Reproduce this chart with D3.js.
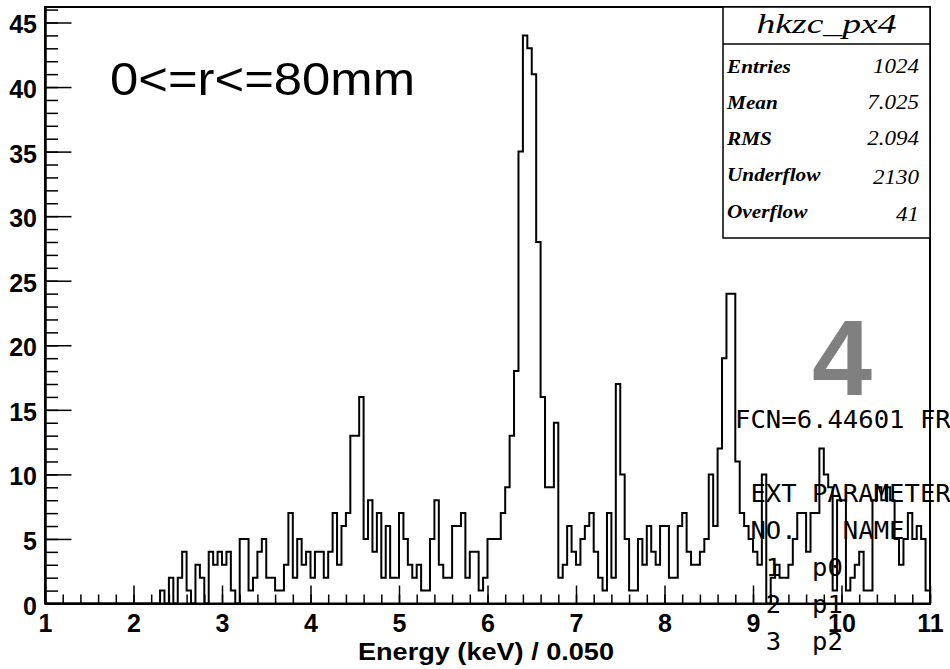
<!DOCTYPE html>
<html>
<head>
<meta charset="utf-8">
<script src="https://cdn.jsdelivr.net/npm/d3@7"></script>
<style>
  html, body { margin: 0; padding: 0; background: #fff; }
  svg { display: block; }
  .mono { white-space: pre; }
</style>
</head>
<body>
<svg id="chart" width="950" height="669"></svg>
<script>
// Energy histogram hkzc_px4: counts in 0.050 keV bins from 1 to 11 keV
const xMin = 1;
const xMax = 11;
const binWidth = 0.05;
const counts = [
  0, 0, 0, 0, 0, 0, 0, 0, 0, 0,      // 1.00 - 1.45
  0, 0, 0, 0, 0, 0, 0, 0, 0, 0,      // 1.50 - 1.95
  0, 0, 0, 0, 0, 0, 1, 0, 2, 0,      // 2.00 - 2.45
  2, 4, 1, 0, 3, 2, 0, 4, 3, 4,      // 2.50 - 2.95
  3, 4, 1, 0, 5, 5, 1, 2, 4, 5,      // 3.00 - 3.45
  2, 2, 1, 1, 3, 7, 2, 5, 3, 4,      // 3.50 - 3.95
  2, 4, 4, 2, 4, 7, 3, 6, 7, 13,     // 4.00 - 4.45
  13, 16, 5, 8, 4, 7, 2, 6, 2, 2,    // 4.50 - 4.95
  7, 5, 3, 2, 3, 1, 1, 5, 8, 3,      // 5.00 - 5.45
  2, 2, 6, 6, 7, 2, 4, 4, 1, 2,      // 5.50 - 5.95
  5, 5, 5, 7, 9, 13, 18, 35, 44, 43, // 6.00 - 6.45
  41, 28, 16, 9, 9, 14, 2, 3, 6, 4,  // 6.50 - 6.95
  3, 5, 6, 7, 4, 2, 1, 7, 2, 17,     // 7.00 - 7.45
  10, 5, 1, 1, 5, 3, 6, 4, 3, 6,     // 7.50 - 7.95
  6, 2, 2, 6, 7, 4, 3, 3, 4, 5,      // 8.00 - 8.45
  10, 6, 12, 19, 24, 24, 11, 7, 6, 5,// 8.50 - 8.95
  4, 3, 10, 0, 2, 3, 2, 2, 3, 5,     // 9.00 - 9.45
  7, 7, 4, 7, 7, 12, 10, 9, 1, 8,    // 9.50 - 9.95
  8, 1, 2, 3, 4, 1, 1, 8, 9, 8,      // 10.00 - 10.45
  9, 8, 5, 3, 5, 7, 5, 6, 5, 1       // 10.50 - 10.95
];
const yMax = 46.2;
const xMajorTicks = [1, 2, 3, 4, 5, 6, 7, 8, 9, 10, 11];
const yMajorTicks = [0, 5, 10, 15, 20, 25, 30, 35, 40, 45];
const xTitle = "Energy (keV) / 0.050";
const regionLabel = "0<=r<=80mm";
const padNumber = "4";
const statsTitle = "hkzc_px4";
const statsNames = ["Entries", "Mean", "RMS", "Underflow", "Overflow"];
const statsValues = ["1024", "7.025", "2.094", "2130", "41"];
const fitLines = [
  " FCN=6.44601 FROM MIGRAD    STATUS=CONVERGED",
  "",
  "  EXT PARAMETER                STEP",
  "  NO.   NAME      VALUE",
  "   1  p0",
  "   2  p1",
  "   3  p2",
  "   4  p3"
];

// Frame geometry
const frame = { left: 45, right: 930, top: 7, bottom: 603.5 };
const svg = d3.select("#chart");

const x = d3.scaleLinear().domain([xMin, xMax]).range([frame.left, frame.right]);
const y = d3.scaleLinear().domain([0, yMax]).range([frame.bottom, frame.top]);

const labelFont = "'Liberation Sans', Arial, Helvetica, sans-serif";

// Frame box
svg.append("rect")
  .attr("x", frame.left).attr("y", frame.top)
  .attr("width", frame.right - frame.left).attr("height", frame.bottom - frame.top)
  .attr("fill", "none").attr("stroke", "#000").attr("stroke-width", 2);

// Histogram outline (step line from bin edges)
const pts = [[xMin, 0]];
counts.forEach((c, i) => pts.push([xMin + i * binWidth, c]));
pts.push([xMax, counts[counts.length - 1]]);
pts.push([xMax, 0]);
const step = d3.line().x(d => x(d[0])).y(d => y(d[1])).curve(d3.curveStepAfter);
svg.append("path")
  .attr("d", step(pts))
  .attr("fill", "none").attr("stroke", "#000").attr("stroke-width", 2)
  .attr("stroke-linejoin", "miter");

// X axis: minor ticks every 0.2, major ticks every 1 (pointing inward)
const xMinor = d3.range(0, 51).map(i => xMin + i * 0.2);
const gxMinor = svg.append("g").attr("transform", `translate(0,${frame.bottom})`)
  .call(d3.axisBottom(x).tickValues(xMinor).tickSize(-9).tickSizeOuter(0).tickFormat(""));
const gx = svg.append("g").attr("transform", `translate(0,${frame.bottom})`)
  .call(d3.axisBottom(x).tickValues(xMajorTicks).tickSize(-18).tickSizeOuter(0)
    .tickPadding(10.5).tickFormat(d3.format("d")));

// Y axis: minor ticks every 1, major ticks every 5
const yMinor = d3.range(0, 47);
const gyMinor = svg.append("g").attr("transform", `translate(${frame.left},0)`)
  .call(d3.axisLeft(y).tickValues(yMinor).tickSize(-13).tickSizeOuter(0).tickFormat(""));
const gy = svg.append("g").attr("transform", `translate(${frame.left},0)`)
  .call(d3.axisLeft(y).tickValues(yMajorTicks).tickSize(-26.5).tickSizeOuter(0)
    .tickPadding(8).tickFormat(d3.format("d")));

[gxMinor, gx, gyMinor, gy].forEach(g => {
  g.select(".domain").attr("stroke", "#000").attr("stroke-width", 2);
  g.selectAll(".tick line").attr("stroke", "#000").attr("stroke-width", 1.5);
});
[gx, gy].forEach(g => {
  g.selectAll(".tick text")
    .attr("font-family", labelFont).attr("font-weight", "bold")
    .attr("font-size", 25).attr("fill", "#000");
});
gy.selectAll(".tick text").attr("dy", "0.42em");

// X axis title
svg.append("text")
  .attr("x", 486).attr("y", 660)
  .attr("text-anchor", "middle")
  .attr("font-family", labelFont).attr("font-weight", "bold").attr("font-size", 24)
  .attr("textLength", 256).attr("lengthAdjust", "spacingAndGlyphs")
  .text(xTitle);

// Region label
svg.append("text")
  .attr("x", 110).attr("y", 95)
  .attr("font-family", labelFont).attr("font-size", 46)
  .attr("textLength", 305).attr("lengthAdjust", "spacingAndGlyphs")
  .text(regionLabel);

// Statistics box
const box = { left: 723, right: frame.right, top: frame.top, bottom: 238, divider: 44 };
svg.append("rect")
  .attr("x", box.left).attr("y", box.top)
  .attr("width", box.right - box.left).attr("height", box.bottom - box.top)
  .attr("fill", "#fff").attr("stroke", "#000").attr("stroke-width", 1.5);
svg.append("line")
  .attr("x1", box.left).attr("x2", box.right).attr("y1", box.divider).attr("y2", box.divider)
  .attr("stroke", "#000").attr("stroke-width", 1.5);

const serif = "'Liberation Serif', 'Times New Roman', Times, serif";
svg.append("text")
  .attr("x", (box.left + box.right) / 2).attr("y", 33)
  .attr("text-anchor", "middle")
  .attr("font-family", serif).attr("font-style", "italic").attr("font-size", 28)
  .attr("textLength", 140).attr("lengthAdjust", "spacingAndGlyphs")
  .text(statsTitle);

const rowBase = [73, 109, 145, 181, 218];
const valueShift = [0, 0, 0, 3, 3];
function stretched(sel, factor) {
  sel.each(function () {
    const w = this.getComputedTextLength();
    d3.select(this).attr("textLength", w * factor).attr("lengthAdjust", "spacingAndGlyphs");
  });
}
statsNames.forEach((name, i) => {
  const t = svg.append("text")
    .attr("x", 727).attr("y", rowBase[i])
    .attr("font-family", serif).attr("font-style", "italic").attr("font-weight", "bold")
    .attr("font-size", 19)
    .text(name);
  stretched(t, 1.12);
  const v = svg.append("text")
    .attr("x", 919).attr("y", rowBase[i] + valueShift[i])
    .attr("text-anchor", "end")
    .attr("font-family", serif).attr("font-style", "italic").attr("font-size", 20)
    .text(statsValues[i]);
  stretched(v, 1.15);
});

// Pad number
svg.append("text")
  .attr("x", 842).attr("y", 395)
  .attr("text-anchor", "middle")
  .attr("font-family", labelFont).attr("font-weight", "bold").attr("font-size", 108)
  .attr("fill", "#808080")
  .text(padNumber);

// Fit printout
fitLines.forEach((line, i) => {
  svg.append("text")
    .attr("class", "mono")
    .attr("x", 719.6).attr("y", 427.5 + i * 37)
    .attr("xml:space", "preserve")
    .attr("font-family", "'DejaVu Sans Mono', monospace").attr("font-size", 25.6)
    .attr("fill", "#000")
    .text(line);
});
</script>
</body>
</html>
